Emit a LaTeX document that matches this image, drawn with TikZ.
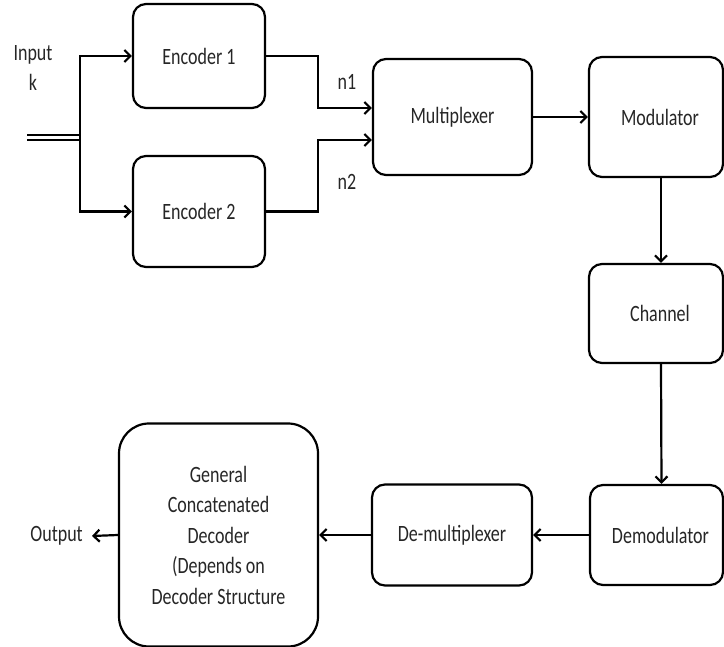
\documentclass[tikz,border=0pt]{standalone}
\usepackage{fontspec}
\setmainfont{Carlito}
\usetikzlibrary{arrows.meta,calc}
\newcommand{\vst}[1]{\scalebox{1}[1.3]{#1}}
\begin{document}
\begin{tikzpicture}[x=1pt,y=-1pt,
  box/.style={draw=black,line width=2.2pt,rounded corners=13pt,inner sep=0pt,
    font=\fontsize{18}{30.5}\selectfont,text=black!85,align=center},
  lbl/.style={font=\fontsize{18}{30}\selectfont,text=black!85,align=center,inner sep=0pt},
  conn/.style={line width=2.2pt},
  arr/.style={conn,-{Straight Barb[length=6pt,width=12pt]}}]
\useasboundingbox (0,0) rectangle (724,647);
% blocks
\node[box,minimum width=132pt,minimum height=104pt] (enc1) at (199,56) {\vst{Encoder 1}};
\node[box,minimum width=132pt,minimum height=111pt] (enc2) at (199,211.5) {\vst{Encoder 2}};
\node[box,minimum width=159pt,minimum height=116pt] (mux) at (452.5,117) {\vst{Multiplexer}};
\node[box,minimum width=134pt,minimum height=120pt] (mod) at (656,117) {\hspace*{8pt}\vst{Modulator}};
\node[box,minimum width=134pt,minimum height=99pt] (chan) at (656,313.5) {\hspace*{8pt}\vst{Channel}};
\node[box,minimum width=133pt,minimum height=100pt] (demod) at (656.5,535) {\hspace*{8pt}\vst{Demodulator}};
\node[box,minimum width=160pt,minimum height=101pt] (demux) at (452,535) {\vst{De-multiplexer}};
\node[box,rounded corners=30pt,minimum width=199pt,minimum height=223pt] (dec) at (218.5,535)
  {\vst{General}\\\vst{Concatenated}\\\vst{Decoder}\\\vst{(Depends on}\\\vst{Decoder Structure}};
% labels
\node[lbl] (inlbl) at (33,68) {\vst{Input}\\\vst{k}};
\node[lbl] (n1) at (347,82) {\vst{n1}};
\node[lbl] (n2) at (347,182) {\vst{n2}};
\node[lbl,anchor=east] (out) at (83,536) {\vst{Output}};
% input double line
\coordinate (inA) at (27,135);
\coordinate (inB) at (27,140);
\coordinate (split) at (80,137.5);
\draw[line width=2pt] (inA) -- (inA -| split);
\draw[line width=2pt] (inB) -- (inB -| split);
\draw[arr] (split) |- (enc1.west);
\draw[arr] (split) |- (enc2.west);
% encoder outputs
\coordinate (j1) at (318,108);
\coordinate (j2) at (318,140);
\draw[arr] (enc1.east) -| (j1) -- (j1 -| mux.west);
\draw[arr] (enc2.east) -| (j2) -- (j2 -| mux.west);
% chain
\draw[arr] (mux.east) -- (mod.west);
\draw[arr] ([xshift=5pt]mod.south) -- ([xshift=5pt]chan.north);
\draw[arr] ([xshift=5pt]chan.south) -- ([xshift=5pt]demod.north);
\draw[arr] (demod.west) -- (demux.east);
\draw[arr] (demux.west) -- (dec.east);
\draw[arr] (dec.west) -- ([xshift=9pt]out.east);
\end{tikzpicture}
\end{document}
